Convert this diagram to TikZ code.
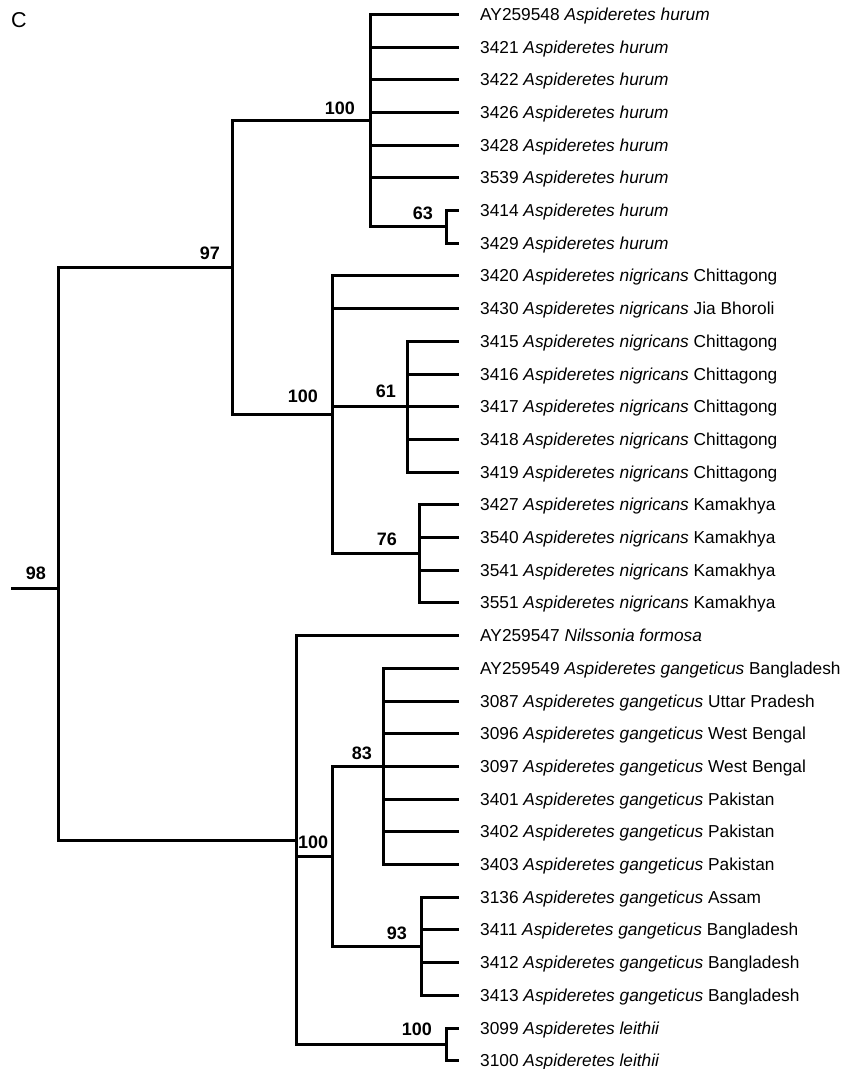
\documentclass[tikz,border=0pt]{standalone}
\usepackage{fontspec}
\setmainfont{Liberation Sans}
\usetikzlibrary{positioning}

\begin{document}
\begin{tikzpicture}[
  x=1pt, y=-1pt,
  branch/.style={line width=3pt},
  leaf/.style={anchor=west, inner xsep=21pt, inner ysep=0pt, text height=14pt, text depth=2pt, font=\fontsize{17.3}{20}\selectfont},
  support/.style={inner sep=0pt, font=\fontsize{18}{21}\selectfont\bfseries},
  node distance=8pt and 13pt
]
\useasboundingbox (0,0) rectangle (842,1069);
\node[anchor=north west, inner sep=0pt, font=\fontsize{21.5}{24}\selectfont] (panel) at (11,12.5) {C};

% inner nodes of the tree
\coordinate (rootstub) at (11,588);
\coordinate (root) at (58,588);
\coordinate (n97) at (232,267.7);
\coordinate (nHur) at (370,120.6);
\coordinate (n63) at (446,226.85);
\coordinate (nNig) at (332,414.9);
\coordinate (n61) at (407,406.7);
\coordinate (n76) at (419,553.85);
\coordinate (nGan) at (296,840);
\coordinate (nInner) at (332,856.3);
\coordinate (n83) at (383,766.4);
\coordinate (n93) at (421,946.25);
\coordinate (nLei) at (446,1044.35);

% tips
\node[leaf] (AY259548) at (459,14.3) {AY259548 \textit{Aspideretes hurum}};
\node[leaf] (s3421) at (459,47.0) {3421 \textit{Aspideretes hurum}};
\node[leaf] (s3422) at (459,79.7) {3422 \textit{Aspideretes hurum}};
\node[leaf] (s3426) at (459,112.4) {3426 \textit{Aspideretes hurum}};
\node[leaf] (s3428) at (459,145.1) {3428 \textit{Aspideretes hurum}};
\node[leaf] (s3539) at (459,177.8) {3539 \textit{Aspideretes hurum}};
\node[leaf] (s3414) at (459,210.5) {3414 \textit{Aspideretes hurum}};
\node[leaf] (s3429) at (459,243.2) {3429 \textit{Aspideretes hurum}};
\node[leaf] (s3420) at (459,275.9) {3420 \textit{Aspideretes nigricans} Chittagong};
\node[leaf] (s3430) at (459,308.6) {3430 \textit{Aspideretes nigricans} Jia Bhoroli};
\node[leaf] (s3415) at (459,341.3) {3415 \textit{Aspideretes nigricans} Chittagong};
\node[leaf] (s3416) at (459,374.0) {3416 \textit{Aspideretes nigricans} Chittagong};
\node[leaf] (s3417) at (459,406.7) {3417 \textit{Aspideretes nigricans} Chittagong};
\node[leaf] (s3418) at (459,439.4) {3418 \textit{Aspideretes nigricans} Chittagong};
\node[leaf] (s3419) at (459,472.1) {3419 \textit{Aspideretes nigricans} Chittagong};
\node[leaf] (s3427) at (459,504.8) {3427 \textit{Aspideretes nigricans} Kamakhya};
\node[leaf] (s3540) at (459,537.5) {3540 \textit{Aspideretes nigricans} Kamakhya};
\node[leaf] (s3541) at (459,570.2) {3541 \textit{Aspideretes nigricans} Kamakhya};
\node[leaf] (s3551) at (459,602.9) {3551 \textit{Aspideretes nigricans} Kamakhya};
\node[leaf] (AY259547) at (459,635.6) {AY259547 \textit{Nilssonia formosa}};
\node[leaf] (AY259549) at (459,668.3) {AY259549 \textit{Aspideretes gangeticus} Bangladesh};
\node[leaf] (s3087) at (459,701.0) {3087 \textit{Aspideretes gangeticus} Uttar Pradesh};
\node[leaf] (s3096) at (459,733.7) {3096 \textit{Aspideretes gangeticus} West Bengal};
\node[leaf] (s3097) at (459,766.4) {3097 \textit{Aspideretes gangeticus} West Bengal};
\node[leaf] (s3401) at (459,799.1) {3401 \textit{Aspideretes gangeticus} Pakistan};
\node[leaf] (s3402) at (459,831.8) {3402 \textit{Aspideretes gangeticus} Pakistan};
\node[leaf] (s3403) at (459,864.5) {3403 \textit{Aspideretes gangeticus} Pakistan};
\node[leaf] (s3136) at (459,897.2) {3136 \textit{Aspideretes gangeticus} Assam};
\node[leaf] (s3411) at (459,929.9) {3411 \textit{Aspideretes gangeticus} Bangladesh};
\node[leaf] (s3412) at (459,962.6) {3412 \textit{Aspideretes gangeticus} Bangladesh};
\node[leaf] (s3413) at (459,995.3) {3413 \textit{Aspideretes gangeticus} Bangladesh};
\node[leaf] (s3099) at (459,1028.0) {3099 \textit{Aspideretes leithii}};
\node[leaf] (s3100) at (459,1060.7) {3100 \textit{Aspideretes leithii}};

% bootstrap values
\node[support, above left=8pt and 12pt of root] (b98) {98};
\node[support, above left=8pt and 12pt of n97] (b97) {97};
\node[support, above left=6pt and 15pt of nHur] (bHur) {100};
\node[support, above left=7pt and 13pt of n63] (b63) {63};
\node[support, above left=12pt and 14pt of nNig] (bNig) {100};
\node[support, above left=9pt and 11pt of n61] (b61) {61};
\node[support, above left=8pt and 22pt of n76] (b76) {76};
\node[support, right=2pt of nGan, yshift=-2.5pt] (bGan) {100};
\node[support, above left=7pt and 11pt of n83] (b83) {83};
\node[support, above left=6pt and 14pt of n93] (b93) {93};
\node[support, above left=8pt and 14pt of nLei] (bLei) {100};

% branches
\draw[branch] (rootstub) -- (root);
\draw[branch] (root) |- (n97);
\draw[branch] (root) |- (nGan);
\draw[branch] (n97) |- (nHur);
\draw[branch] (n97) |- (nNig);
\draw[branch] (nHur) |- (AY259548.west);
\draw[branch] (nHur) |- (s3421.west);
\draw[branch] (nHur) |- (s3422.west);
\draw[branch] (nHur) |- (s3426.west);
\draw[branch] (nHur) |- (s3428.west);
\draw[branch] (nHur) |- (s3539.west);
\draw[branch] (nHur) |- (n63);
\draw[branch] (n63) |- (s3414.west);
\draw[branch] (n63) |- (s3429.west);
\draw[branch] (nNig) |- (s3420.west);
\draw[branch] (nNig) |- (s3430.west);
\draw[branch] (nNig) |- (n61);
\draw[branch] (nNig) |- (n76);
\draw[branch] (n61) |- (s3415.west);
\draw[branch] (n61) |- (s3416.west);
\draw[branch] (n61) |- (s3417.west);
\draw[branch] (n61) |- (s3418.west);
\draw[branch] (n61) |- (s3419.west);
\draw[branch] (n76) |- (s3427.west);
\draw[branch] (n76) |- (s3540.west);
\draw[branch] (n76) |- (s3541.west);
\draw[branch] (n76) |- (s3551.west);
\draw[branch] (nGan) |- (AY259547.west);
\draw[branch] (nGan) |- (nInner);
\draw[branch] (nGan) |- (nLei);
\draw[branch] (nInner) |- (n83);
\draw[branch] (nInner) |- (n93);
\draw[branch] (n83) |- (AY259549.west);
\draw[branch] (n83) |- (s3087.west);
\draw[branch] (n83) |- (s3096.west);
\draw[branch] (n83) |- (s3097.west);
\draw[branch] (n83) |- (s3401.west);
\draw[branch] (n83) |- (s3402.west);
\draw[branch] (n83) |- (s3403.west);
\draw[branch] (n93) |- (s3136.west);
\draw[branch] (n93) |- (s3411.west);
\draw[branch] (n93) |- (s3412.west);
\draw[branch] (n93) |- (s3413.west);
\draw[branch] (nLei) |- (s3099.west);
\draw[branch] (nLei) |- (s3100.west);
\end{tikzpicture}
\end{document}
